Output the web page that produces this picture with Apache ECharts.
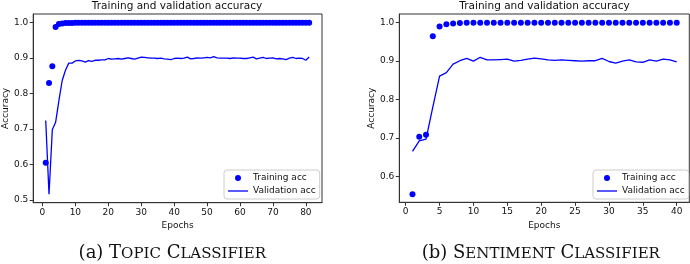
<!DOCTYPE html>
<html><head><meta charset="utf-8">
<script src="https://cdn.jsdelivr.net/npm/echarts@6/dist/echarts.min.js"></script>
<style>html,body{margin:0;padding:0;background:#fff}#c{width:690px;height:264px}</style>
</head><body><div id="c"></div>
<script>
// ---- data ----
const topicTrainAcc = [0.605,0.830,0.877,0.988,0.996,0.998,0.999,0.999,0.999,1.000,
  1.000,1.000,1.000,1.000,1.000,1.000,1.000,1.000,1.000,1.000,
  1.000,1.000,1.000,1.000,1.000,1.000,1.000,1.000,1.000,1.000,
  1.000,1.000,1.000,1.000,1.000,1.000,1.000,1.000,1.000,1.000,
  1.000,1.000,1.000,1.000,1.000,1.000,1.000,1.000,1.000,1.000,
  1.000,1.000,1.000,1.000,1.000,1.000,1.000,1.000,1.000,1.000,
  1.000,1.000,1.000,1.000,1.000,1.000,1.000,1.000,1.000,1.000,
  1.000,1.000,1.000,1.000,1.000,1.000,1.000,1.000,1.000,1.000,1.000];
const topicValAcc = [0.724,0.516,0.698,0.719,0.780,0.837,0.866,0.886,0.886,0.892,
  0.894,0.892,0.889,0.893,0.891,0.894,0.894,0.895,0.895,0.899,
  0.897,0.898,0.899,0.897,0.899,0.901,0.899,0.897,0.900,0.903,
  0.902,0.901,0.900,0.900,0.899,0.900,0.898,0.897,0.896,0.899,
  0.900,0.899,0.900,0.903,0.898,0.899,0.901,0.900,0.901,0.902,
  0.901,0.904,0.901,0.900,0.900,0.900,0.899,0.901,0.900,0.900,
  0.899,0.899,0.901,0.903,0.898,0.900,0.902,0.899,0.900,0.901,
  0.898,0.899,0.898,0.896,0.900,0.902,0.899,0.900,0.899,0.894,0.903];
const sentTrainAcc = [0.553,0.703,0.708,0.965,0.990,0.996,0.998,0.999,1.000,1.000,
  1.000,1.000,1.000,1.000,1.000,1.000,1.000,1.000,1.000,1.000,
  1.000,1.000,1.000,1.000,1.000,1.000,1.000,1.000,1.000,1.000,
  1.000,1.000,1.000,1.000,1.000,1.000,1.000,1.000,1.000,1.000];
const sentValAcc = [0.665,0.692,0.697,0.780,0.861,0.870,0.892,0.901,0.907,0.900,
  0.910,0.903,0.903,0.904,0.905,0.900,0.902,0.905,0.908,0.906,
  0.903,0.902,0.903,0.902,0.901,0.900,0.901,0.901,0.907,0.899,
  0.895,0.900,0.903,0.898,0.897,0.903,0.900,0.905,0.903,0.898];
const topicXTicks = [0,10,20,30,40,50,60,70,80];
const topicYTicks = [0.5,0.6,0.7,0.8,0.9,1.0];
const sentXTicks = [0,5,10,15,20,25,30,35,40];
const sentYTicks = [0.6,0.7,0.8,0.9,1.0];
const titleText = 'Training and validation accuracy';
const seriesNames = ['Training acc','Validation acc'];
const xName = 'Epochs';
const yName = 'Accuracy';
const captionA = '{n|(a) T}{s|OPIC}{n| C}{s|LASSIFIER}';
const captionB = '{n|(b) S}{s|ENTIMENT}{n| C}{s|LASSIFIER}';

// ---- styles ----
const BLUE = '#0000ff';
const AX = '#333';
const FONT = 'DejaVu Sans';
const pts = arr => arr.map((v, i) => [i + 1, v]);

function xAxis(idx, min, max, ticks) {
  return {
    gridIndex: idx, type: 'value', min: min, max: max,
    axisLine: {show: true, onZero: false, lineStyle: {color: AX, width: 1}},
    axisTick: {show: true, length: 3.5, customValues: ticks, lineStyle: {color: AX}},
    axisLabel: {customValues: ticks, fontSize: 9, fontFamily: FONT, color: '#111', margin: 5},
    splitLine: {show: false},
    name: xName, nameLocation: 'middle', nameGap: 17,
    nameTextStyle: {fontSize: 9, fontFamily: FONT, color: '#111'}
  };
}
function yAxis(idx, min, max, ticks) {
  return {
    gridIndex: idx, type: 'value', min: min, max: max,
    axisLine: {show: true, onZero: false, lineStyle: {color: AX, width: 1}},
    axisTick: {show: true, length: 3.5, customValues: ticks, lineStyle: {color: AX}},
    axisLabel: {customValues: ticks, fontSize: 9, fontFamily: FONT, color: '#111', margin: 5,
      formatter: v => v.toFixed(1)},
    splitLine: {show: false},
    name: yName, nameLocation: 'middle', nameGap: 23,
    nameTextStyle: {fontSize: 9, fontFamily: FONT, color: '#111'}
  };
}
function legend(left) {
  return {
    left: left, top: 170, orient: 'vertical',
    data: [{name: seriesNames[0], icon: 'circle'},
           {name: seriesNames[1], icon: 'path://M0,0 H20 V1.3 H0 Z'}],
    itemWidth: 20, itemHeight: 6, itemGap: 3, symbolKeepAspect: true,
    padding: [3, 4, 3, 4],
    borderColor: '#ccc', borderWidth: 1, borderRadius: 3,
    backgroundColor: 'rgba(255,255,255,0.8)',
    textStyle: {fontSize: 9, fontFamily: FONT, color: '#111', lineHeight: 10},
    selectedMode: false
  };
}

const chart = echarts.init(document.getElementById('c'), null, {renderer: 'canvas'});
chart.setOption({
  animation: false,
  backgroundColor: '#fff',
  grid: [
    {left: 32, top: 14, width: 290, height: 188.7, show: true, borderColor: AX, borderWidth: 1, containLabel: false},
    {left: 399.3, top: 14, width: 290, height: 188.3, show: true, borderColor: AX, borderWidth: 1, containLabel: false}
  ],
  xAxis: [xAxis(0, -2.8, 84.9, topicXTicks), xAxis(1, -0.945, 41.86, sentXTicks)],
  yAxis: [yAxis(0, 0.4923, 1.0245, topicYTicks), yAxis(1, 0.5323, 1.0227, sentYTicks)],
  legend: [legend(224), legend(593)],
  series: [
    {type: 'scatter', name: seriesNames[0], xAxisIndex: 0, yAxisIndex: 0, data: pts(topicTrainAcc),
      symbolSize: 6, itemStyle: {color: BLUE, opacity: 1}},
    {type: 'line', name: seriesNames[1], xAxisIndex: 0, yAxisIndex: 0, data: pts(topicValAcc),
      symbol: 'none', showSymbol: false, lineStyle: {color: BLUE, width: 1.3}, itemStyle: {color: BLUE}},
    {type: 'scatter', name: seriesNames[0], xAxisIndex: 1, yAxisIndex: 1, data: pts(sentTrainAcc),
      symbolSize: 6, itemStyle: {color: BLUE, opacity: 1}},
    {type: 'line', name: seriesNames[1], xAxisIndex: 1, yAxisIndex: 1, data: pts(sentValAcc),
      symbol: 'none', showSymbol: false, lineStyle: {color: BLUE, width: 1.3}, itemStyle: {color: BLUE}}
  ],
  graphic: [
    {type: 'text', x: 177, y: 6, style: {text: titleText, fontSize: 10.5, fontFamily: FONT, fill: '#111', align: 'center', verticalAlign: 'middle'}},
    {type: 'text', x: 544.5, y: 6, style: {text: titleText, fontSize: 10.5, fontFamily: FONT, fill: '#111', align: 'center', verticalAlign: 'middle'}},
    {type: 'text', x: 172.3, y: 253, style: {text: captionA, align: 'center', verticalAlign: 'middle', fill: '#111',
      rich: {n: {fontSize: 18, fontFamily: 'DejaVu Serif', verticalAlign: 'bottom', lineHeight: 18},
             s: {fontSize: 15, fontFamily: 'DejaVu Serif', verticalAlign: 'bottom', lineHeight: 18}}}},
    {type: 'text', x: 540.8, y: 253, style: {text: captionB, align: 'center', verticalAlign: 'middle', fill: '#111',
      rich: {n: {fontSize: 18, fontFamily: 'DejaVu Serif', verticalAlign: 'bottom', lineHeight: 18},
             s: {fontSize: 15, fontFamily: 'DejaVu Serif', verticalAlign: 'bottom', lineHeight: 18}}}}
  ]
});
</script>
</body></html>
